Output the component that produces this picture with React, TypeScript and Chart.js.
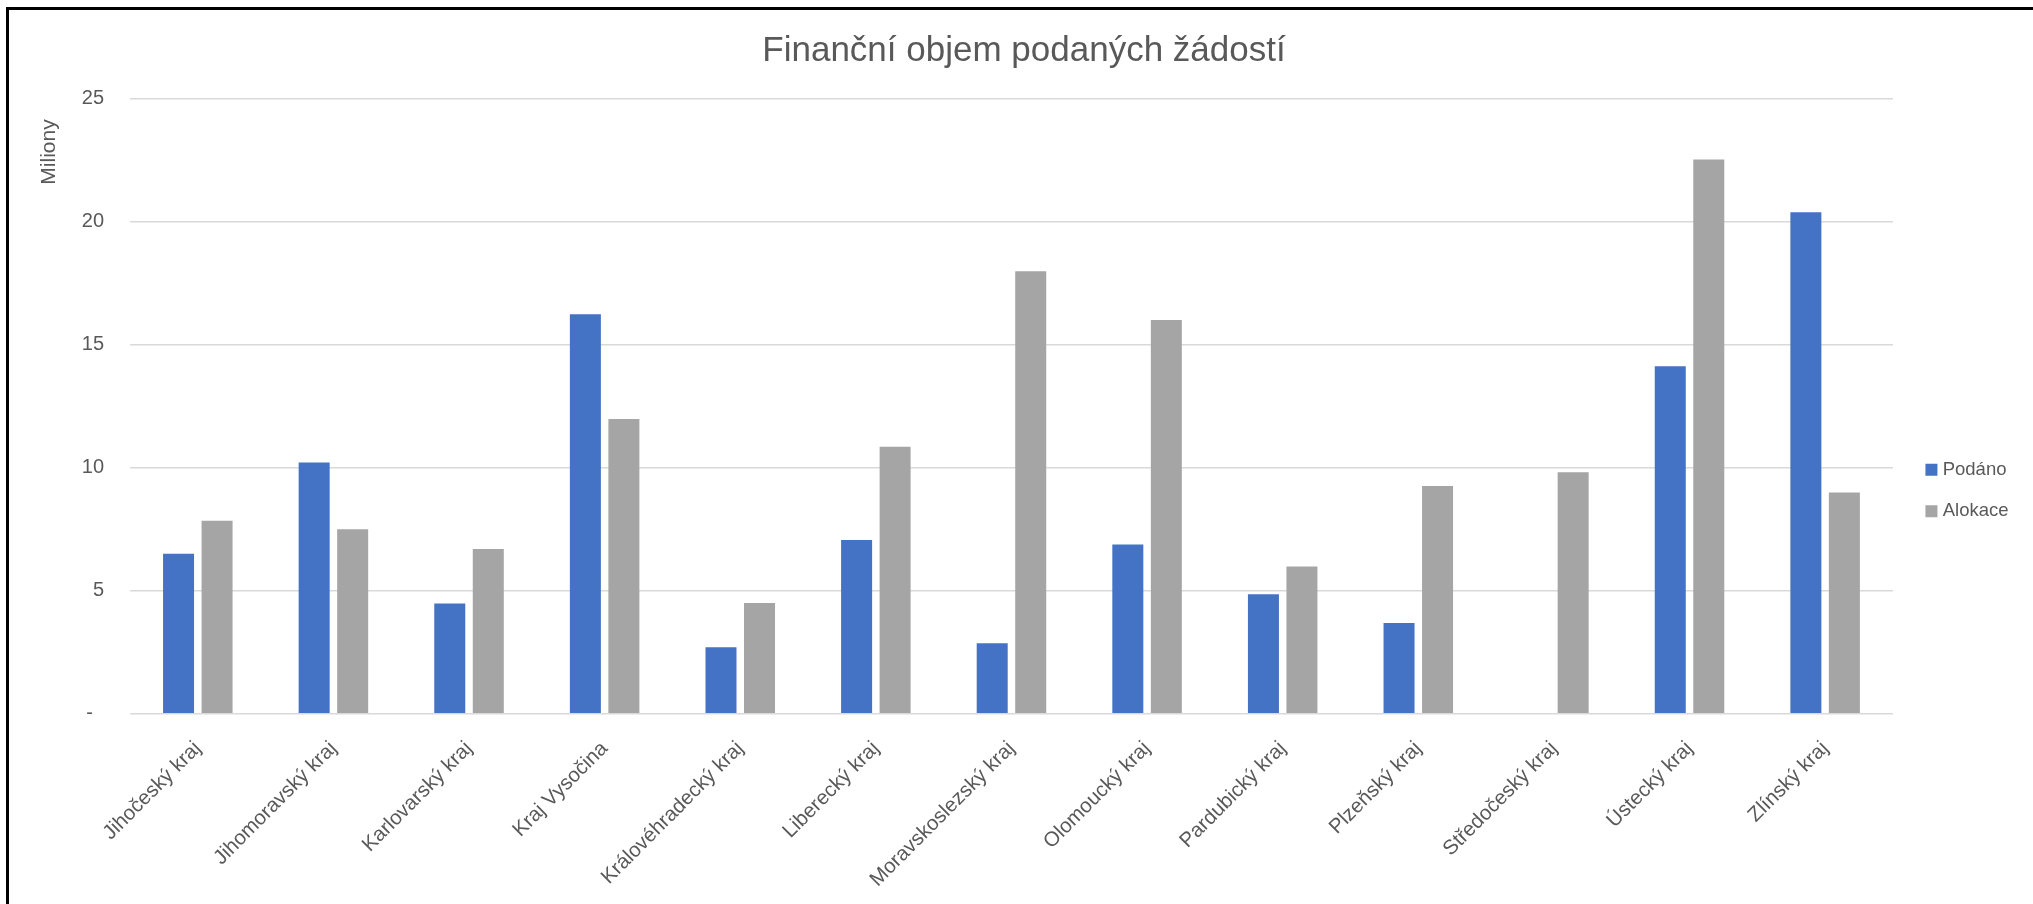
import React, { useEffect, useRef } from 'react';
import { Chart, registerables } from 'chart.js';

Chart.register(...registerables);

const chartTitle = 'Finanční objem podaných žádostí';
const yAxisTitle = 'Miliony';
const seriesNames = ['Podáno', 'Alokace'];

const categories = [
  'Jihočeský kraj',
  'Jihomoravský kraj',
  'Karlovarský kraj',
  'Kraj Vysočina',
  'Královéhradecký kraj',
  'Liberecký kraj',
  'Moravskoslezský kraj',
  'Olomoucký kraj',
  'Pardubický kraj',
  'Plzeňský kraj',
  'Středočeský kraj',
  'Ústecký kraj',
  'Zlínský kraj',
];

const podano = [6.5, 10.21, 4.48, 16.23, 2.7, 7.06, 2.86, 6.88, 4.85, 3.69, null, 14.12, 20.38];
const alokace = [7.84, 7.5, 6.69, 11.98, 4.5, 10.85, 17.98, 16.0, 5.98, 9.25, 9.81, 22.52, 8.99];

const yTickValues = [0, 5, 10, 15, 20, 25];
const yTickLabels = ['-  ', '5', '10', '15', '20', '25'];

const FONT = "'Liberation Sans', Arial, sans-serif";
const TEXT = '#595959';

const unitLabelPlugin = {
  id: 'unitLabel',
  afterDraw(chart: any) {
    const { ctx, chartArea } = chart;
    const yScale = chart.scales.y;
    ctx.save();
    ctx.translate(yScale.left + 39, chartArea.top + 53.5);
    ctx.rotate(-Math.PI / 2);
    ctx.font = `21px ${FONT}`;
    ctx.fillStyle = TEXT;
    ctx.textAlign = 'center';
    ctx.textBaseline = 'middle';
    ctx.fillText(yAxisTitle, 0, 0);
    ctx.restore();
  },
};

export default function App() {
  const ref = useRef<HTMLCanvasElement>(null);

  useEffect(() => {
    if (!ref.current) return;
    const chart = new Chart(ref.current, {
      type: 'bar',
      data: {
        labels: categories,
        datasets: [
          {
            label: seriesNames[0],
            data: podano,
            backgroundColor: '#4472C4',
            barPercentage: 0.805,
            categoryPercentage: 0.568,
          },
          {
            label: seriesNames[1],
            data: alokace,
            backgroundColor: '#A5A5A5',
            barPercentage: 0.805,
            categoryPercentage: 0.568,
          },
        ],
      },
      plugins: [unitLabelPlugin],
      options: {
        responsive: false,
        animation: false,
        layout: { padding: 0 },
        plugins: {
          title: {
            display: true,
            text: chartTitle,
            color: TEXT,
            font: { family: FONT, size: 35, weight: 'normal' },
            padding: { top: 20, bottom: 26.5 },
          },
          legend: {
            position: 'right',
            labels: {
              usePointStyle: true,
              pointStyle: 'rect',
              boxWidth: 4,
              boxHeight: 12,
              padding: 23,
              color: TEXT,
              font: { family: FONT, size: 18.5 },
            },
          },
          tooltip: { enabled: false },
        },
        scales: {
          x: {
            grid: { display: false },
            border: { display: false },
            ticks: {
              color: TEXT,
              font: { family: FONT, size: 20.5 },
              minRotation: 45,
              maxRotation: 45,
              autoSkip: false,
              padding: 15,
            },
            afterFit: (s: any) => {
              s.height = 257.3;
            },
          },
          y: {
            min: 0,
            max: 25,
            afterBuildTicks: (s: any) => {
              s.ticks = yTickValues.map((v) => ({ value: v }));
            },
            ticks: {
              color: TEXT,
              font: { family: FONT, size: 20 },
              padding: 26,
              callback: (v: any) => {
                const i = yTickValues.indexOf(Number(v));
                return i >= 0 ? yTickLabels[i] : '';
              },
            },
            grid: { color: '#D9D9D9', lineWidth: 1.5, drawTicks: false },
            border: { display: false },
            afterFit: (s: any) => {
              s.width = 120;
            },
          },
          yGap: {
            type: 'linear',
            position: 'right',
            weight: 0,
            grid: { display: false },
            border: { display: false },
            ticks: { display: false },
            afterFit: (s: any) => {
              s.width = 13.5;
            },
          },
          yPad: {
            type: 'linear',
            position: 'right',
            weight: 1500,
            grid: { display: false },
            border: { display: false },
            ticks: { display: false },
            afterFit: (s: any) => {
              s.width = 19.5;
            },
          },
        },
      } as any,
    });
    return () => chart.destroy();
  }, []);

  return (
    <div
      style={{
        position: 'fixed',
        left: 6,
        top: 7,
        right: 0,
        bottom: 0,
        overflow: 'hidden',
        background: '#fff',
      }}
    >
      <div
        style={{
          borderLeft: '3px solid #000',
          borderTop: '3px solid #000',
          width: 2100,
          height: 1000,
          background: '#fff',
          paddingLeft: 1,
        }}
      >
        <canvas ref={ref} width={2028} height={961} style={{ display: 'block' }} />
      </div>
    </div>
  );
}
